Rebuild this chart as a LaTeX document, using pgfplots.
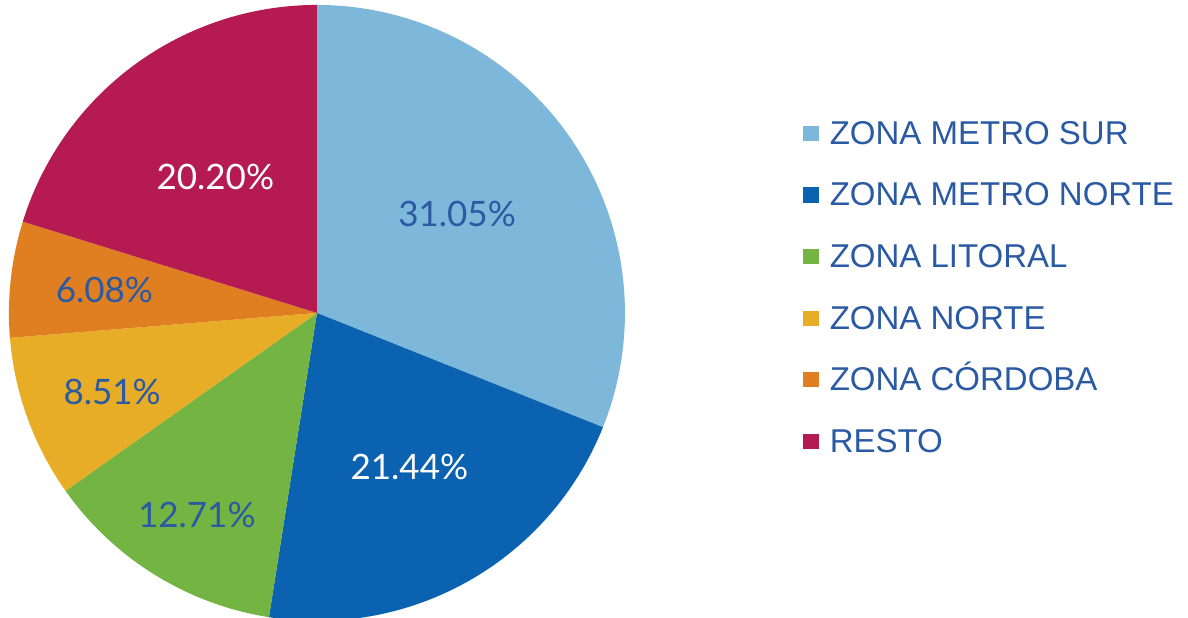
\documentclass[border=0pt]{standalone}
\usepackage{pgfplots}
\pgfplotsset{compat=1.18}
\usepackage{fontspec}
\setmainfont{Liberation Sans}
\newfontfamily\lato{Lato}
\definecolor{cLB}{HTML}{7DB8DA}
\definecolor{cDB}{HTML}{0A62B0}
\definecolor{cGR}{HTML}{74B443}
\definecolor{cYE}{HTML}{E8AD26}
\definecolor{cOR}{HTML}{E07F22}
\definecolor{cRE}{HTML}{B51B50}
\definecolor{txt}{HTML}{2A5AA3}
% values (percent)
\def\vA{31.05}\def\vB{21.44}\def\vC{12.71}\def\vD{8.51}\def\vE{6.08}\def\vF{20.20}
\pgfmathsetmacro\aA{90}
\pgfmathsetmacro\aB{\aA-3.6*\vA}
\pgfmathsetmacro\aC{\aB-3.6*\vB}
\pgfmathsetmacro\aD{\aC-3.6*\vC}
\pgfmathsetmacro\aE{\aD-3.6*\vD}
\pgfmathsetmacro\aF{\aE-3.6*\vE}
\pgfmathsetmacro\aG{\aF-3.6*\vF}
\begin{document}
\begin{tikzpicture}
\begin{axis}[
  x=154pt, y=154pt,
  xmin=-1.029, xmax=2.828, ymin=-0.990, ymax=1.016,
  hide axis,
  legend image code/.code={\fill[#1] (0pt,-3.8pt) rectangle (7.6pt,3.8pt); \path (13.2pt,0pt);},
  legend style={draw=none, fill=none, at={(axis cs:1.578,0.646)}, anchor=north west,
    font=\fontsize{16.5}{18}\selectfont, text=txt, inner sep=0pt, row sep=11.8pt,
    nodes={inner sep=0pt, text height=15pt, text depth=4pt},
    cells={anchor=west}},
]
\path (rel axis cs:0,0) rectangle (rel axis cs:1,1);
\addplot[fill=cLB, draw=none, domain=\aB:\aA, samples=80] ({cos(x)},{sin(x)}) -- (axis cs:0,0) -- cycle;
\addlegendentry{ZONA METRO SUR}
\addplot[fill=cDB, draw=none, domain=\aC:\aB, samples=60] ({cos(x)},{sin(x)}) -- (axis cs:0,0) -- cycle;
\addlegendentry{ZONA METRO NORTE}
\addplot[fill=cGR, draw=none, domain=\aD:\aC, samples=40] ({cos(x)},{sin(x)}) -- (axis cs:0,0) -- cycle;
\addlegendentry{ZONA LITORAL}
\addplot[fill=cYE, draw=none, domain=\aE:\aD, samples=30] ({cos(x)},{sin(x)}) -- (axis cs:0,0) -- cycle;
\addlegendentry{ZONA NORTE}
\addplot[fill=cOR, draw=none, domain=\aF:\aE, samples=30] ({cos(x)},{sin(x)}) -- (axis cs:0,0) -- cycle;
\addlegendentry{ZONA CÓRDOBA}
\addplot[fill=cRE, draw=none, domain=\aG:\aF, samples=60] ({cos(x)},{sin(x)}) -- (axis cs:0,0) -- cycle;
\addlegendentry{RESTO}
\begin{scope}[every node/.style={font=\lato\fontsize{17.5}{20}\selectfont}]
\node[text=txt] at (axis cs:0.455,0.320) {31.05\%};
\node[text=white] at (axis cs:0.300,-0.500) {21.44\%};
\node[text=txt] at (axis cs:-0.390,-0.655) {12.71\%};
\node[text=txt] at (axis cs:-0.665,-0.255) {8.51\%};
\node[text=txt] at (axis cs:-0.690,0.075) {6.08\%};
\node[text=white] at (axis cs:-0.330,0.440) {20.20\%};
\end{scope}
\end{axis}
\end{tikzpicture}
\end{document}
